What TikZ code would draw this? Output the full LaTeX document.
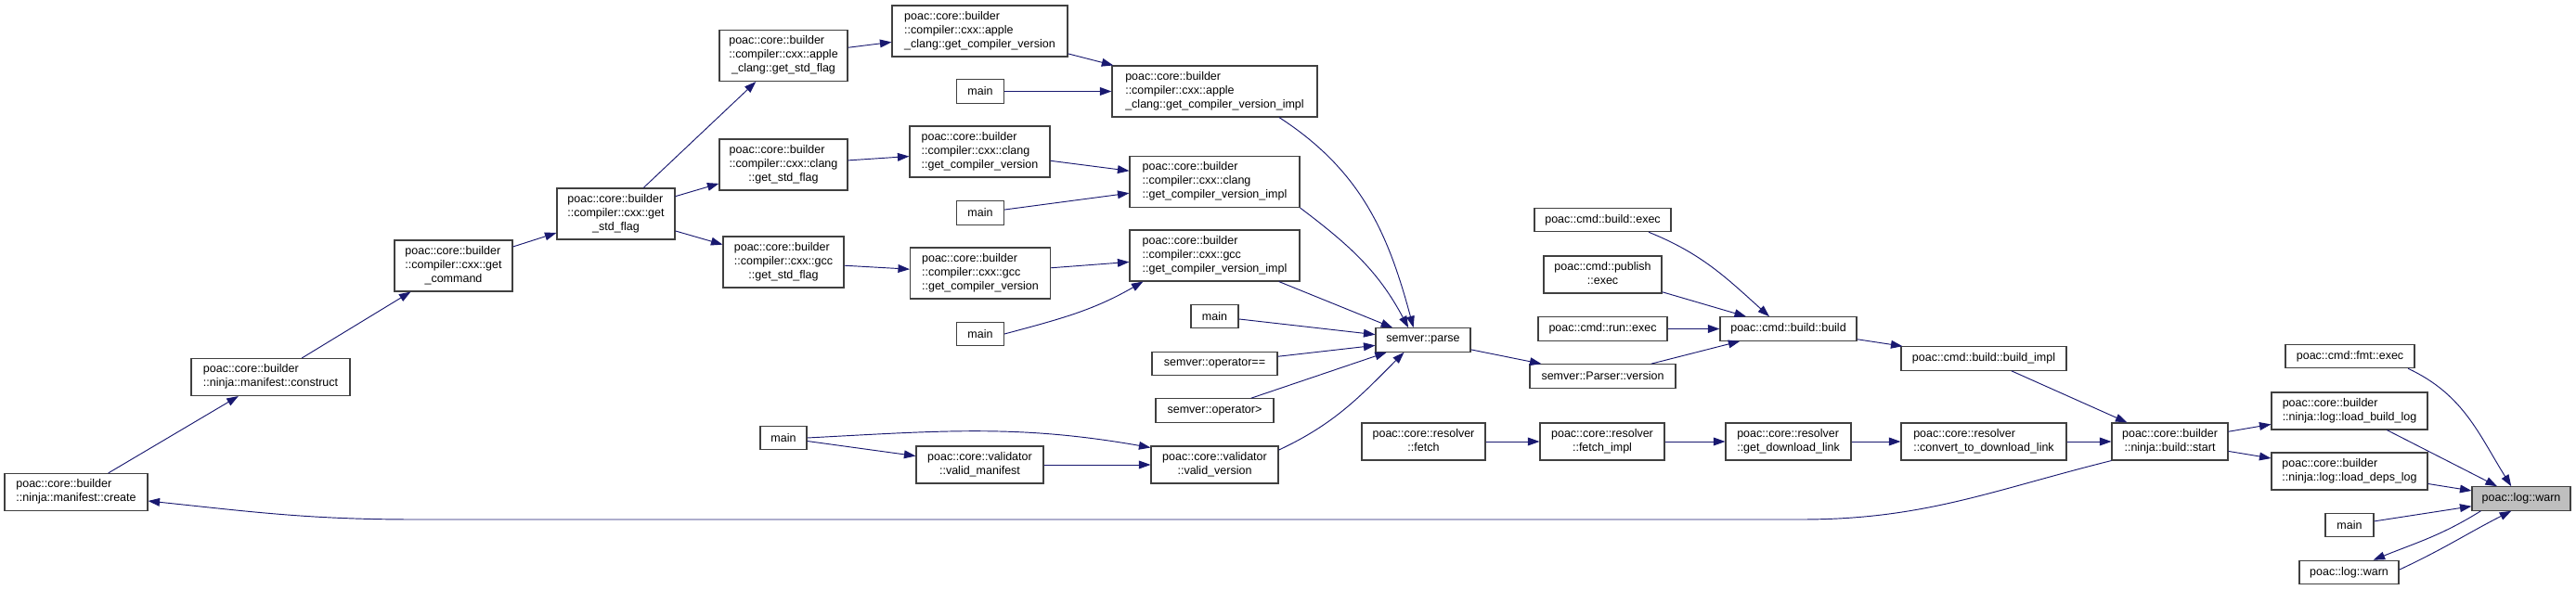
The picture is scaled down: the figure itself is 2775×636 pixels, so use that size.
\documentclass[tikz,border=0pt]{standalone}
\usepackage{fontspec}
\setmainfont{Liberation Sans}
\usetikzlibrary{arrows.meta}

\definecolor{edgeblue}{HTML}{191970}
\definecolor{boxline}{HTML}{404040}
\definecolor{rootfill}{HTML}{BFBFBF}

% label: left lines, then a centred last line
\newcommand{\lab}[2]{\begin{tabular}{@{}l@{}}#1\\\multicolumn{1}{@{}c@{}}{#2}\end{tabular}}

\begin{document}
\begin{tikzpicture}[
    x=0.8pt, y=0.8pt,
    >={Triangle[length=10pt,width=7pt]},
    font=\fontsize{10}{12}\selectfont,
    fn/.style={draw=boxline, fill=white, line width=0.9pt, inner sep=0pt,
        minimum width=#1*0.8pt, minimum height=20.4pt},
    fn2/.style={fn=#1, minimum height=32pt},
    fn3/.style={fn=#1, minimum height=44pt},
    root/.style={fn=#1, fill=rootfill},
    call/.style={->, draw=edgeblue, line width=0.75pt}
]
    \useasboundingbox (0,0) rectangle (2775,636);

    % Manifest and compiler chain
    \node[fn2=154] (create) at (82,105.5) {\lab{poac::core::builder}{::ninja::manifest::create}};
    \node[fn2=171] (construct) at (291.5,229.5) {\lab{poac::core::builder}{::ninja::manifest::construct}};
    \node[fn3=127] (getcmd) at (488.5,349.5) {\lab{poac::core::builder\\::compiler::cxx::get}{\_command}};
    \node[fn3=127] (getflag) at (663.5,405.5) {\lab{poac::core::builder\\::compiler::cxx::get}{\_std\_flag}};
    \node[fn3=138] (aflag) at (844,576) {\lab{poac::core::builder\\::compiler::cxx::apple}{\_clang::get\_std\_flag}};
    \node[fn3=138] (cflag) at (844,458.5) {\lab{poac::core::builder\\::compiler::cxx::clang}{::get\_std\_flag}};
    \node[fn3=130] (gflag) at (844,353.5) {\lab{poac::core::builder\\::compiler::cxx::gcc}{::get\_std\_flag}};

    \node[fn3=189] (aver) at (1055.5,602.5) {\lab{poac::core::builder\\::compiler::cxx::apple}{\_clang::get\_compiler\_version}};
    \node[fn=51] (mainA) at (1056,537.5) {main};
    \node[fn3=151] (cver) at (1055.5,472.5) {\lab{poac::core::builder\\::compiler::cxx::clang}{::get\_compiler\_version}};
    \node[fn=51] (mainB) at (1056,406.5) {main};
    \node[fn3=151] (gver) at (1056,341.5) {\lab{poac::core::builder\\::compiler::cxx::gcc}{::get\_compiler\_version}};
    \node[fn=51] (mainC) at (1056,276) {main};
    \node[fn=50] (mainE) at (844,164) {main};
    \node[fn2=137] (vman) at (1055.5,135) {\lab{poac::core::validator}{::valid\_manifest}};

    \node[fn3=221] (aimpl) at (1308.5,537.5) {\lab{poac::core::builder\\::compiler::cxx::apple}{\_clang::get\_compiler\_version\_impl}};
    \node[fn3=183] (cimpl) at (1308.5,440) {\lab{poac::core::builder\\::compiler::cxx::clang}{::get\_compiler\_version\_impl}};
    \node[fn3=183] (gimpl) at (1308.5,360.5) {\lab{poac::core::builder\\::compiler::cxx::gcc}{::get\_compiler\_version\_impl}};
    \node[fn=51] (mainD) at (1308.5,295) {main};
    \node[fn=135] (opeq) at (1308.5,244) {semver::operator==};
    \node[fn=127] (opgt) at (1308.5,193.5) {semver::operator>};
    \node[fn2=137] (vver) at (1308.5,135) {\lab{poac::core::validator}{::valid\_version}};

    % Parser, commands, resolver
    \node[fn=102] (parse) at (1533,269.5) {semver::parse};
    \node[fn2=133] (fetch) at (1533.5,160) {\lab{poac::core::resolver}{::fetch}};
    \node[fn=147] (bexec) at (1726.5,399) {poac::cmd::build::exec};
    \node[fn2=127] (pexec) at (1726.5,340) {\lab{poac::cmd::publish}{::exec}};
    \node[fn=139] (rexec) at (1726.5,281.5) {poac::cmd::run::exec};
    \node[fn=157] (pver) at (1726.5,230.5) {semver::Parser::version};
    \node[fn2=134] (fimpl) at (1726,160) {\lab{poac::core::resolver}{::fetch\_impl}};
    \node[fn=147] (bbuild) at (1926.5,281.5) {poac::cmd::build::build};
    \node[fn2=135] (gdl) at (1926.5,160) {\lab{poac::core::resolver}{::get\_download\_link}};
    \node[fn=178] (bimpl) at (2137,249.5) {poac::cmd::build::build\_impl};
    \node[fn2=178] (cdl) at (2137,160) {\lab{poac::core::resolver}{::convert\_to\_download\_link}};

    % Builder and log
    \node[fn2=125] (start) at (2337.5,160) {\lab{poac::core::builder}{::ninja::build::start}};
    \node[fn=139] (fmt) at (2531.5,252) {poac::cmd::fmt::exec};
    \node[fn2=168] (lbl) at (2531,193) {\lab{poac::core::builder}{::ninja::log::load\_build\_log}};
    \node[fn2=168] (ldl) at (2531,128) {\lab{poac::core::builder}{::ninja::log::load\_deps\_log}};
    \node[fn=52] (mainF) at (2531,70) {main};
    \node[fn=107] (warn2) at (2530.5,19) {poac::log::warn};
    \node[root=106] (warn) at (2716,98.5) {poac::log::warn};

    \coordinate (lowR) at (1940,76);
    \coordinate (lowL) at (446,76);

    % Edges
    \draw[call] (create) -- (construct);
    \draw[call] (construct) -- (getcmd);
    \draw[call] (getcmd) -- (getflag);
    \draw[call] (getflag) -- (aflag);
    \draw[call] (getflag) -- (cflag);
    \draw[call] (getflag) -- (gflag);
    \draw[call] (aflag) -- (aver);
    \draw[call] (cflag) -- (cver);
    \draw[call] (gflag) -- (gver);
    \draw[call] (aver) -- (aimpl);
    \draw[call] (mainA) -- (aimpl);
    \draw[call] (cver) -- (cimpl);
    \draw[call] (mainB) -- (cimpl);
    \draw[call] (gver) -- (gimpl);
    \draw[call] (mainC.east) to[out=15,in=-150] (gimpl.-160);
    \draw[call] (aimpl.-22) to[out=-33,in=105] (parse.128);
    \draw[call] (cimpl.south east) to[out=-37,in=118] (parse.140);
    \draw[call] (gimpl) -- (parse);
    \draw[call] (mainD) -- (parse);
    \draw[call] (opeq) -- (parse);
    \draw[call] (opgt) -- (parse);
    \draw[call] (vver.13) to[out=25,in=-135] (parse.-147);
    \draw[call] (mainE) -- (vman);
    \draw[call] (mainE.east) to[out=3,in=170] (vver.165);
    \draw[call] (vman) -- (vver);
    \draw[call] (parse) -- (pver);
    \draw[call] (pver) -- (bbuild);
    \draw[call] (bexec.-15) to[out=-22,in=138] (bbuild.147);
    \draw[call] (pexec) -- (bbuild);
    \draw[call] (rexec) -- (bbuild);
    \draw[call] (bbuild) -- (bimpl);
    \draw[call] (bimpl) -- (start);
    \draw[call] (fetch) -- (fimpl);
    \draw[call] (fimpl) -- (gdl);
    \draw[call] (gdl) -- (cdl);
    \draw[call] (cdl) -- (start);
    \draw[call] (start.south west) to[out=-166,in=0] (lowR) -- (lowL)
        to[out=180,in=-6] (create.-7);
    \draw[call] (start) -- (lbl);
    \draw[call] (start) -- (ldl);
    \draw[call] (fmt.-12) to[out=-25,in=122] (warn.129);
    \draw[call] (lbl) -- (warn);
    \draw[call] (ldl) -- (warn);
    \draw[call] (mainF) -- (warn);
    \draw[call] (warn.-163) to[out=-148,in=22] (warn2.27);
    \draw[call] (warn2.3) to[out=25,in=-153] (warn.-129);

\end{tikzpicture}
\end{document}
